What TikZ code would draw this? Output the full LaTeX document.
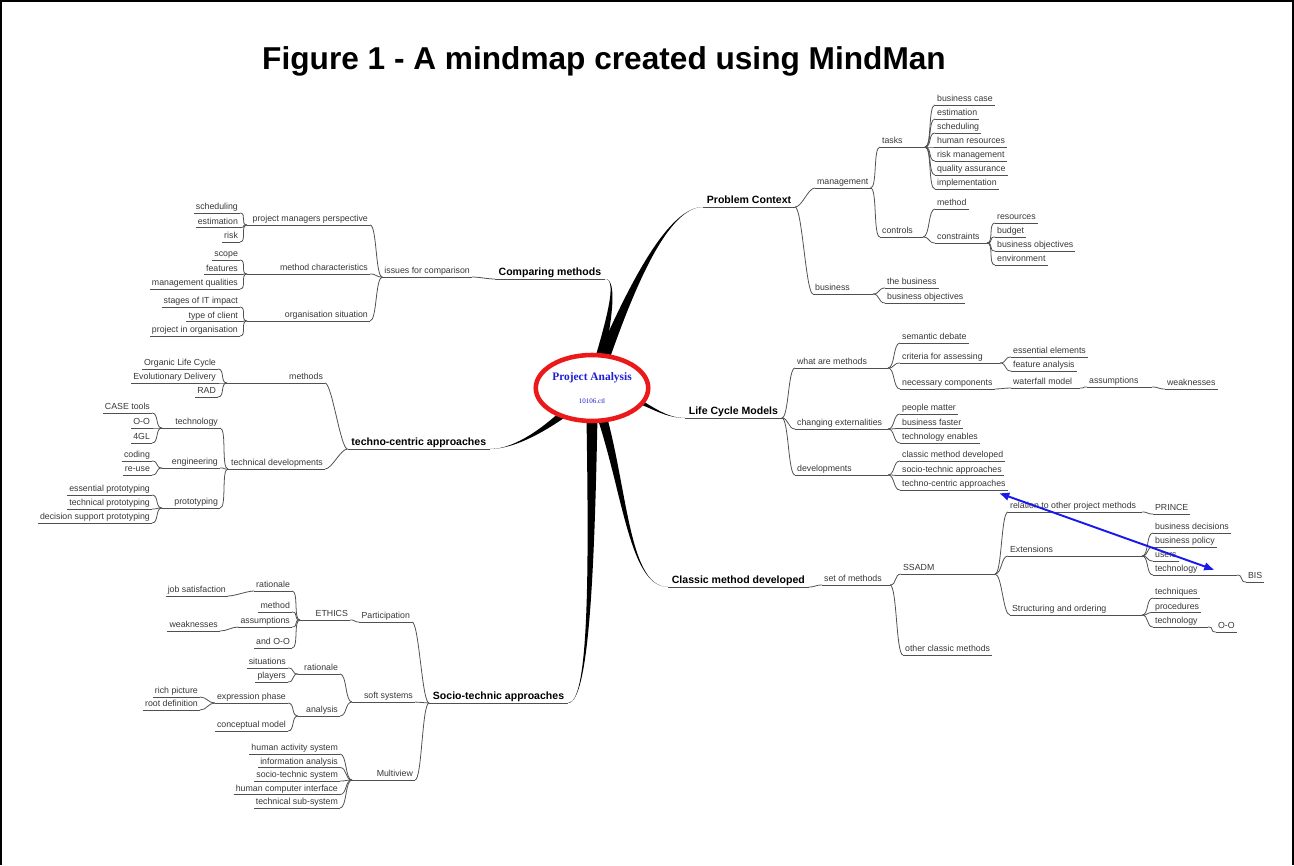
\documentclass[tikz,border=0pt]{standalone}
\usepackage{fontspec}
\setmainfont{Liberation Sans}
\newfontfamily\hubserif{Liberation Serif}
\usetikzlibrary{arrows.meta, calc, backgrounds, shapes.geometric}

\definecolor{linegray}{RGB}{80,80,80}
\definecolor{labelgray}{RGB}{55,55,55}
\definecolor{hubred}{RGB}{235,25,25}
\definecolor{hubblue}{RGB}{30,30,210}
\definecolor{linkblue}{RGB}{25,25,235}

\newcommand{\twigfont}{\fontsize{5}{6}\selectfont}
\newcommand{\trunkfont}{\fontsize{6}{7}\selectfont\bfseries}

% tapered main branch: start, control 1, control 2, end, half width at start
\newcommand{\bough}[5]{%
  \fill[black] ($(#1)+(#5)$) .. controls ($(#2)+0.5*(#5)$) and (#3) .. (#4)
    .. controls (#3) and ($(#2)-0.5*(#5)$) .. ($(#1)-(#5)$) -- cycle;}

\tikzset{
  uline/.style={draw=linegray, line width=0.45pt},
  twig/.style={draw=linegray, line width=0.45pt},
  rt/.style={out=0, in=180, distance=4pt},
  lt/.style={out=180, in=0, distance=4pt},
  leaf/.style={font=\twigfont, text=labelgray, inner xsep=1pt, inner ysep=0.6pt,
    text height=3.6pt, text depth=1.1pt,
    append after command={(\tikzlastnode.south west) edge[uline] (\tikzlastnode.south east)}},
  rleaf/.style={leaf, anchor=south west},
  lleaf/.style={leaf, anchor=south east},
  trunk/.style={leaf, font=\trunkfont, text=black, inner xsep=2pt, text height=4.4pt, text depth=1.3pt},
  rtrunk/.style={trunk, anchor=south west},
  ltrunk/.style={trunk, anchor=south east},
  hub/.style={ellipse, draw=hubred, line width=2.6pt, fill=white, minimum width=2.25cm,
    minimum height=1.32cm, inner sep=0pt, align=center, text=hubblue},
  link/.style={draw=linkblue, line width=1.1pt, {Latex[length=6pt,width=5pt]}-{Latex[length=6pt,width=5pt]}}
}

\begin{document}
\begin{tikzpicture}[x=0.02cm, y=-0.02cm]
  \useasboundingbox (0,0) rectangle (1294,865);

  % frame and title
  \draw[line width=0.9pt] (1,865) -- (1,1) -- (1293,1) -- (1293,865);
  \node[font=\fontsize{18}{21}\selectfont\bfseries] (title) at (604,61) {Figure 1 - A mindmap created using MindMan};

  % centre
  \node[hub] (root) at (592,388) {{\hubserif\bfseries\fontsize{6.5}{8}\selectfont Project Analysis}\\[1pt]{\hubserif\fontsize{4}{5}\selectfont 10106.ctl}};

  % ---------- Problem Context ----------
  \node[rtrunk] (pc) at (703,207) {Problem Context};
  \node[rleaf] (mgmt) at (815,188) {management};
  \node[rleaf] (busi) at (813,294) {business};
  \draw[twig] (pc.south east) to[rt] (mgmt.south west);
  \draw[twig] (pc.south east) to[rt] (busi.south west);

  \node[rleaf] (tasks) at (880,147) {tasks};
  \node[rleaf] (ctrl) at (880,237) {controls};
  \draw[twig] (mgmt.south east) to[rt] (tasks.south west);
  \draw[twig] (mgmt.south east) to[rt] (ctrl.south west);

  \coordinate (tasksF) at (925,147);
  \draw[twig] (tasks.south east) -- (tasksF);
  \foreach \nm/\txt [count=\i from 0] in {bcase/business case, estim/estimation, sched/scheduling, hres/human resources, riskm/risk management, qual/quality assurance, impl/implementation} {
    \node[rleaf] (\nm) at (935,105+14*\i) {\txt};
    \draw[twig] (tasksF) to[rt] (\nm.south west);
  }

  \coordinate (ctrlF) at (923,237);
  \draw[twig] (ctrl.south east) -- (ctrlF);
  \node[rleaf] (meth) at (935,209) {method};
  \node[rleaf] (cons) at (935,243) {constraints};
  \draw[twig] (ctrlF) to[rt] (meth.south west);
  \draw[twig] (ctrlF) to[rt] (cons.south west);
  \coordinate (consF) at (987,243);
  \draw[twig] (cons.south east) -- (consF);
  \foreach \nm/\txt [count=\i from 0] in {reso/resources, budg/budget, bobj/business objectives, envi/environment} {
    \node[rleaf] (\nm) at (995,223+14*\i) {\txt};
    \draw[twig] (consF) to[rt] (\nm.south west);
  }

  \coordinate (busiF) at (873,294);
  \draw[twig] (busi.south east) -- (busiF);
  \node[rleaf] (thebus) at (885,288) {the business};
  \node[rleaf] (bobjb) at (885,303) {business objectives};
  \draw[twig] (busiF) to[rt] (thebus.south west);
  \draw[twig] (busiF) to[rt] (bobjb.south west);

  % ---------- Life Cycle Models ----------
  \node[rtrunk] (lcm) at (685,418) {Life Cycle Models};
  \node[rleaf] (wam) at (795,368) {what are methods};
  \node[rleaf] (chext) at (795,429) {changing externalities};
  \node[rleaf] (devs) at (795,475) {developments};
  \foreach \nm in {wam, chext, devs}
    \draw[twig] (lcm.south east) to[rt] (\nm.south west);

  \coordinate (wamF) at (888,368);
  \draw[twig] (wam.south east) -- (wamF);
  \node[rleaf] (semd) at (900,343) {semantic debate};
  \node[rleaf] (crit) at (900,363) {criteria for assessing};
  \node[rleaf] (necc) at (900,389) {necessary components};
  \foreach \nm in {semd, crit, necc}
    \draw[twig] (wamF) to[rt] (\nm.south west);
  \coordinate (critF) at (1000,363);
  \draw[twig] (crit.south east) -- (critF);
  \node[rleaf] (essel) at (1011,357) {essential elements};
  \node[rleaf] (feat) at (1011,371) {feature analysis};
  \draw[twig] (critF) to[rt] (essel.south west);
  \draw[twig] (critF) to[rt] (feat.south west);
  \node[rleaf] (wfall) at (1011,388) {waterfall model};
  \draw[twig] (necc.south east) to[rt] (wfall.south west);
  \coordinate (wfallF) at (1080,388);
  \draw[twig] (wfall.south east) -- (wfallF);
  \node[rleaf] (assum) at (1087,387) {assumptions};
  \draw[twig] (wfallF) to[rt] (assum.south west);
  \coordinate (assumF) at (1152,387);
  \draw[twig] (assum.south east) -- (assumF);
  \node[rleaf] (weak) at (1165,389) {weaknesses};
  \draw[twig] (assumF) to[rt] (weak.south west);

  \coordinate (chextF) at (888,429);
  \draw[twig] (chext.south east) -- (chextF);
  \foreach \nm/\txt [count=\i from 0] in {pmat/people matter, bfast/business faster, tenab/technology enables} {
    \node[rleaf] (\nm) at (900,414+14.5*\i) {\txt};
    \draw[twig] (chextF) to[rt] (\nm.south west);
  }

  \coordinate (devsF) at (888,475);
  \draw[twig] (devs.south east) -- (devsF);
  \foreach \nm/\txt [count=\i from 0] in {cmdr/classic method developed, star/socio-technic approaches, tcar/techno-centric approaches} {
    \node[rleaf] (\nm) at (900,461+14.5*\i) {\txt};
    \draw[twig] (devsF) to[rt] (\nm.south west);
  }

  % ---------- Classic method developed ----------
  \node[rtrunk] (cmd) at (668,587) {Classic method developed};
  \node[rleaf] (som) at (822,585) {set of methods};
  \draw[twig] (cmd.south east) to[rt] (som.south west);
  \coordinate (somF) at (890,585);
  \draw[twig] (som.south east) -- (somF);
  \node[rleaf] (ssadm) at (901,574) {SSADM};
  \node[rleaf] (ocm) at (903,655) {other classic methods};
  \draw[twig] (somF) to[rt] (ssadm.south west);
  \draw[twig] (somF) to[rt] (ocm.south west);

  \coordinate (ssadmF) at (995,574);
  \draw[twig] (ssadm.south east) -- (ssadmF);
  \node[rleaf] (rel) at (1008,512) {relation to other project methods};
  \node[rleaf] (ext) at (1008,556) {Extensions};
  \node[rleaf] (struc) at (1010,615) {Structuring and ordering};
  \foreach \nm in {rel, ext, struc} {
    \draw[twig] (ssadmF) to[rt] (\nm.south west);
    \coordinate (\nm F) at (1142,0 |- \nm.south east);
    \draw[twig] (\nm.south east) -- (\nm F);
  }
  \node[rleaf] (prince) at (1153,514) {PRINCE};
  \draw[twig] (relF) to[rt] (prince.south west);
  \foreach \nm/\txt [count=\i from 0] in {bdec/business decisions, bpol/business policy, users/users, etech/technology} {
    \node[rleaf] (\nm) at (1153,533+14*\i) {\txt};
    \draw[twig] (extF) to[rt] (\nm.south west);
  }
  \coordinate (etechF) at (1237,575);
  \draw[twig] (etech.south east) -- (etechF);
  \node[rleaf] (bis) at (1246,582) {BIS};
  \draw[twig] (etechF) to[rt] (bis.south west);
  \foreach \nm/\txt [count=\i from 0] in {techq/techniques, proc/procedures, stech/technology} {
    \node[rleaf] (\nm) at (1153,598+14.5*\i) {\txt};
    \draw[twig] (strucF) to[rt] (\nm.south west);
  }
  \coordinate (stechF) at (1208,627);
  \draw[twig] (stech.south east) -- (stechF);
  \node[rleaf] (oor) at (1216,632) {O-O};
  \draw[twig] (stechF) to[rt] (oor.south west);

  % blue cross link
  \draw[link] ($(tcar.south east)+(-9,3)$) -- ($(etech.south east)+(15,-5)$);

  % ---------- Comparing methods ----------
  \node[ltrunk] (cm) at (605,279) {Comparing methods};
  \node[lleaf] (ifc) at (472,277) {issues for comparison};
  \draw[twig] (cm.south west) to[lt] (ifc.south east);
  \node[lleaf] (pmp) at (370,225) {project managers perspective};
  \node[lleaf] (mch) at (370,274) {method characteristics};
  \node[lleaf] (orgs) at (370,321) {organisation situation};
  \foreach \nm in {pmp, mch, orgs} {
    \draw[twig] (ifc.south west) to[lt] (\nm.south east);
    \coordinate (\nm F) at (247,0 |- \nm.south west);
    \draw[twig] (\nm.south west) -- (\nm F);
  }
  \foreach \nm/\txt [count=\i from 0] in {schedl/scheduling, estiml/estimation, riskl/risk} {
    \node[lleaf] (\nm) at (240,213+14.5*\i) {\txt};
    \draw[twig] (pmpF) to[lt] (\nm.south east);
  }
  \foreach \nm/\txt [count=\i from 0] in {scope/scope, featl/features, mgq/management qualities} {
    \node[lleaf] (\nm) at (240,260+14.5*\i) {\txt};
    \draw[twig] (mchF) to[lt] (\nm.south east);
  }
  \foreach \nm/\txt [count=\i from 0] in {stages/stages of IT impact, toc/type of client, pio/project in organisation} {
    \node[lleaf] (\nm) at (240,307+14.5*\i) {\txt};
    \draw[twig] (orgsF) to[lt] (\nm.south east);
  }

  % ---------- techno-centric approaches ----------
  \node[ltrunk] (tc) at (490,449) {techno-centric approaches};
  \node[lleaf] (tmeth) at (325,383) {methods};
  \node[lleaf] (tdev) at (325,469) {technical developments};
  \draw[twig] (tc.south west) to[lt] (tmeth.south east);
  \draw[twig] (tc.south west) to[lt] (tdev.south east);
  \coordinate (tmethF) at (227,383);
  \draw[twig] (tmeth.south west) -- (tmethF);
  \foreach \nm/\txt/\y in {olc/Organic Life Cycle/369, evd/Evolutionary Delivery/383, rad/RAD/397} {
    \node[lleaf] (\nm) at (218,\y) {\txt};
    \draw[twig] (tmethF) to[lt] (\nm.south east);
  }
  \coordinate (tdevF) at (228,469);
  \draw[twig] (tdev.south west) -- (tdevF);
  \foreach \nm/\txt/\y in {ttech/technology/428, eng/engineering/468, proto/prototyping/508} {
    \node[lleaf] (\nm) at (220,\y) {\txt};
    \draw[twig] (tdevF) to[lt] (\nm.south east);
    \coordinate (\nm F) at (162,\y);
    \draw[twig] (\nm.south west) -- (\nm F);
  }
  \foreach \nm/\txt/\y in {caset/CASE tools/413, ool/O-O/428, fgl/4GL/443} {
    \node[lleaf] (\nm) at (152,\y) {\txt};
    \draw[twig] (ttechF) to[lt] (\nm.south east);
  }
  \foreach \nm/\txt/\y in {coding/coding/461, reuse/re-use/475} {
    \node[lleaf] (\nm) at (152,\y) {\txt};
    \draw[twig] (engF) to[lt] (\nm.south east);
  }
  \foreach \nm/\txt/\y in {ep/essential prototyping/495, tp/technical prototyping/509, dsp/decision support prototyping/523} {
    \node[lleaf] (\nm) at (152,\y) {\txt};
    \draw[twig] (protoF) to[lt] (\nm.south east);
  }

  % ---------- Socio-technic approaches ----------
  \node[ltrunk] (sta) at (568,703) {Socio-technic approaches};
  \node[lleaf] (part) at (412,622) {Participation};
  \node[lleaf] (soft) at (415,702) {soft systems};
  \node[lleaf] (mview) at (415,780) {Multiview};
  \foreach \nm in {part, soft, mview}
    \draw[twig] (sta.south west) to[lt] (\nm.south east);

  \node[lleaf] (ethics) at (350,620) {ETHICS};
  \draw[twig] (part.south west) to[lt] (ethics.south east);
  \coordinate (ethicsF) at (300,620);
  \draw[twig] (ethics.south west) -- (ethicsF);
  \foreach \nm/\txt/\y in {ratl/rationale/591, methl/method/612, assuml/assumptions/627, andoo/and O-O/648} {
    \node[lleaf] (\nm) at (292,\y) {\txt};
    \draw[twig] (ethicsF) to[lt] (\nm.south east);
  }
  \node[lleaf] (jobs) at (228,596) {job satisfaction};
  \draw[twig] (ratl.south west) to[lt] (jobs.south east);
  \node[lleaf] (weakl) at (220,631) {weaknesses};
  \draw[twig] (assuml.south west) to[lt] (weakl.south east);

  \coordinate (softF) at (352,702);
  \draw[twig] (soft.south west) -- (softF);
  \foreach \nm/\txt/\y in {ratb/rationale/674, anal/analysis/716} {
    \node[lleaf] (\nm) at (340,\y) {\txt};
    \draw[twig] (softF) to[lt] (\nm.south east);
    \coordinate (\nm F) at (298,\y);
    \draw[twig] (\nm.south west) -- (\nm F);
  }
  \foreach \nm/\txt/\y in {sit/situations/668, play/players/682} {
    \node[lleaf] (\nm) at (288,\y) {\txt};
    \draw[twig] (ratbF) to[lt] (\nm.south east);
  }
  \foreach \nm/\txt/\y in {exph/expression phase/703, cmod/conceptual model/731} {
    \node[lleaf] (\nm) at (288,\y) {\txt};
    \draw[twig] (analF) to[lt] (\nm.south east);
  }
  \foreach \nm/\txt/\y in {rich/rich picture/697, rootd/root definition/710} {
    \node[lleaf] (\nm) at (200,\y) {\txt};
    \draw[twig] (exph.south west) to[lt] (\nm.south east);
  }

  \coordinate (mviewF) at (352,780);
  \draw[twig] (mview.south west) -- (mviewF);
  \foreach \nm/\txt [count=\i from 0] in {has/human activity system, ia/information analysis, sts/socio-technic system, hci/human computer interface, tss/technical sub-system} {
    \node[lleaf] (\nm) at (340,754+13.5*\i) {\txt};
    \draw[twig] (mviewF) to[lt] (\nm.south east);
  }

  % ---------- main branches ----------
  \begin{scope}[on background layer]
    \bough{root.center}{625,300}{665,207}{pc.south west}{7,2}
    \bough{root.center}{640,392}{655,418}{lcm.south west}{0,6}
    \bough{root.center}{625,470}{625,587}{cmd.south west}{6,0}
    \bough{root.center}{610,320}{618,279}{cm.south east}{6,0}
    \bough{root.center}{560,420}{520,449}{tc.south east}{4,5}
    \bough{root.center}{592,560}{590,703}{sta.south east}{6,0}
  \end{scope}
\end{tikzpicture}
\end{document}
